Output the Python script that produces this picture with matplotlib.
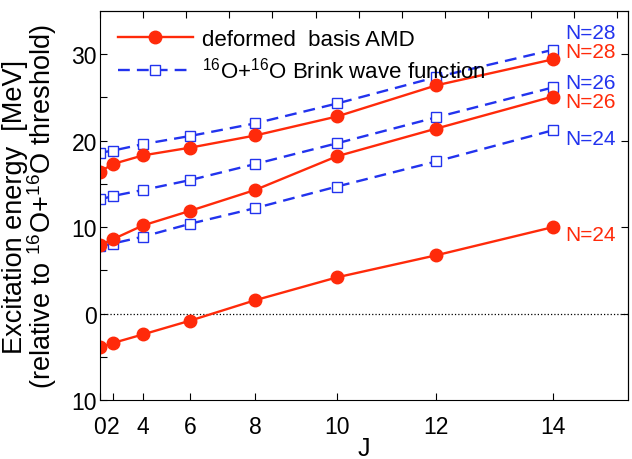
import matplotlib.pyplot as plt
import numpy as np

plt.rcParams['font.family'] = ['Liberation Sans', 'DejaVu Sans']
plt.rcParams['mathtext.fontset'] = 'custom'
plt.rcParams['mathtext.rm'] = 'Liberation Sans'
plt.rcParams['mathtext.it'] = 'Liberation Sans'

# spin values, x axis is drawn on a J(J+1) scale
J = np.array([0, 2, 4, 6, 8, 10, 12, 14])

# deformed basis AMD (red)
amd_n24 = [-3.9, -3.4, -2.4, -0.8, 1.55, 4.2, 6.75, 10.0]
amd_n26 = [7.9, 8.6, 10.2, 11.9, 14.3, 18.2, 21.4, 25.1]
amd_n28 = [16.4, 17.3, 18.3, 19.2, 20.6, 22.8, 26.4, 29.4]

# 16O+16O Brink wave function (blue)
brink_n24 = [7.8, 8.1, 8.9, 10.4, 12.2, 14.7, 17.6, 21.2]
brink_n26 = [13.2, 13.6, 14.3, 15.45, 17.3, 19.7, 22.7, 26.15]
brink_n28 = [18.6, 18.85, 19.6, 20.55, 22.0, 24.3, 27.35, 30.5]

red = '#ff2a0a'
blue = '#2233ee'

x = J * (J + 1)

fig = plt.figure(figsize=(6.32, 4.6), dpi=100)
ax = fig.add_axes([0.158, 0.128, 0.836, 0.846])

ax.axhline(0, color='k', ls=':', lw=0.9)

for i, ys in enumerate([brink_n24, brink_n26, brink_n28]):
    ax.plot(x, ys, color=blue, ls=(0, (5, 3)), lw=1.7, marker='s', ms=7,
            mfc='white', mec=blue, mew=1.0,
            label=r'$^{16}$O+$^{16}$O Brink wave function' if i == 0 else None)
for i, ys in enumerate([amd_n24, amd_n26, amd_n28]):
    ax.plot(x, ys, color=red, lw=1.7, marker='o', ms=9,
            label='deformed  basis AMD' if i == 0 else None)

# N labels at the right end
tx = 216
for txt, ty, c in [('N=28', 32.5, blue), ('N=28', 30.3, red),
                   ('N=26', 26.7, blue), ('N=26', 24.5, red),
                   ('N=24', 20.2, blue), ('N=24', 9.2, red)]:
    ax.text(tx, ty, txt, color=c, fontsize=15, va='center', ha='left')

ax.set_xlim(0, 245)
ax.set_ylim(-10, 35)
ax.set_xticks(x)
ax.set_xticklabels([str(j) for j in J])
ax.set_yticks([-10, 0, 10, 20, 30])
ax.set_yticklabels(['10', '0', '10', '20', '30'])
ax.set_yticks(np.arange(-10, 35, 5), minor=True)
ax.tick_params(direction='in', length=5, width=0.8, labelsize=16.5)
ax.tick_params(axis='x', pad=11)
ax.tick_params(axis='y', pad=2)
ax.tick_params(which='minor', direction='in', length=5, width=0.8)

top = ax.secondary_xaxis('top')
top.set_xticks(np.arange(0, 241, 20))
top.tick_params(direction='in', length=5, labeltop=False)
right = ax.secondary_yaxis('right')
right.set_yticks([0, 10, 20, 30])
right.tick_params(direction='in', length=5, labelright=False)

ax.set_xlabel('J', fontsize=18, labelpad=-2)
ax.set_ylabel('Excitation energy  [MeV]\n(relative to $^{16}$O+$^{16}$O threshold)',
              fontsize=19.5, linespacing=0.9, labelpad=9)

h, l = ax.get_legend_handles_labels()
ax.legend(h[::-1], l[::-1], loc='upper left', frameon=False, fontsize=16,
          handlelength=3.4, handletextpad=0.4, borderaxespad=0.5,
          labelspacing=0.3, borderpad=0.3)

fig.savefig('out.png', dpi=100)
